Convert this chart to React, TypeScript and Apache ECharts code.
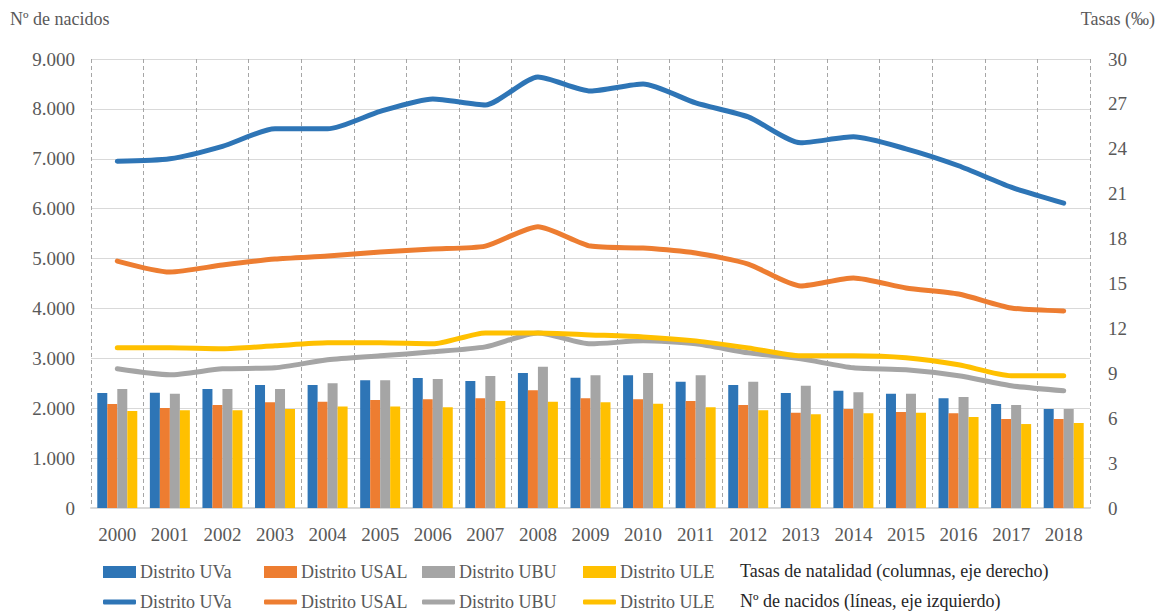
import React, { useEffect, useRef } from "react";
import * as echarts from "echarts";

const years = ["2000","2001","2002","2003","2004","2005","2006","2007","2008","2009","2010","2011","2012","2013","2014","2015","2016","2017","2018"];

// Tasas de natalidad (‰) — columns, right axis
const rateUVa = [7.68, 7.70, 7.95, 8.22, 8.22, 8.53, 8.69, 8.49, 9.02, 8.71, 8.87, 8.44, 8.22, 7.68, 7.84, 7.64, 7.33, 6.95, 6.61];
const rateUSAL = [6.95, 6.68, 6.88, 7.06, 7.10, 7.22, 7.26, 7.33, 7.86, 7.33, 7.26, 7.15, 6.88, 6.37, 6.61, 6.41, 6.33, 5.95, 5.95];
const rateUBU = [7.95, 7.64, 7.95, 7.95, 8.33, 8.53, 8.62, 8.82, 9.44, 8.87, 9.02, 8.87, 8.44, 8.17, 7.73, 7.64, 7.42, 6.88, 6.61];
const rateULE = [6.48, 6.53, 6.53, 6.61, 6.79, 6.79, 6.73, 7.15, 7.10, 7.06, 6.97, 6.73, 6.53, 6.26, 6.33, 6.37, 6.08, 5.61, 5.68];

// Nº de nacidos — lines, left axis
const birthsUVa = [6950, 7000, 7250, 7600, 7600, 7950, 8200, 8080, 8640, 8360, 8500, 8120, 7840, 7320, 7440, 7200, 6860, 6430, 6110];
const birthsUSAL = [4950, 4730, 4870, 4990, 5050, 5130, 5190, 5250, 5640, 5250, 5210, 5110, 4890, 4450, 4610, 4410, 4290, 4010, 3950];
const birthsUBU = [2790, 2670, 2790, 2810, 2970, 3050, 3130, 3230, 3510, 3290, 3350, 3290, 3110, 2990, 2810, 2770, 2650, 2450, 2350];
const birthsULE = [3210, 3210, 3190, 3250, 3310, 3310, 3290, 3510, 3510, 3470, 3430, 3350, 3210, 3050, 3050, 3010, 2870, 2650, 2650];

const districts = ["Distrito UVa", "Distrito USAL", "Distrito UBU", "Distrito ULE"];
const colors = ["#2E75B6", "#ED7D31", "#A5A5A5", "#FFC000"];
const rates = [rateUVa, rateUSAL, rateUBU, rateULE];
const births = [birthsUVa, birthsUSAL, birthsUBU, birthsULE];

const leftAxisName = "Nº de nacidos";
const rightAxisName = "Tasas (‰)";
const barLegendNote = "Tasas de natalidad (columnas, eje derecho)";
const lineLegendNote = "Nº de nacidos (líneas, eje izquierdo)";

const FONT = "Liberation Serif";
const TXT = "#595959";

const fmtThousands = (v: number) =>
  v >= 1000 ? Math.floor(v / 1000) + "." + String(v % 1000).padStart(3, "0") : String(v);

export default function App() {
  const ref = useRef<HTMLDivElement>(null);
  useEffect(() => {
    if (!ref.current) return;
    const chart = echarts.init(ref.current, null, { renderer: "svg" });
    const legendX = [103, 264, 422, 583];
    const series: any[] = [];
    districts.forEach((d, i) => {
      series.push({
        name: d + " (tasa)",
        type: "bar",
        yAxisIndex: 1,
        data: rates[i],
        barWidth: 10,
        barGap: "0%",
        itemStyle: { color: colors[i] },
      });
    });
    districts.forEach((d, i) => {
      series.push({
        name: d + " (nacidos)",
        type: "line",
        yAxisIndex: 0,
        data: births[i],
        smooth: 0.22,
        symbol: "none",
        lineStyle: { color: colors[i], width: 5, cap: "round", join: "round" },
        itemStyle: { color: colors[i] },
      });
    });
    const legends: any[] = [];
    districts.forEach((d, i) => {
      legends.push({
        left: legendX[i],
        top: 563,
        data: [{ name: d + " (tasa)", icon: "rect" }],
        itemWidth: 33,
        itemHeight: 12,
        itemGap: 0,
        padding: 0,
        selectedMode: false,
        formatter: () => d,
        textStyle: { fontFamily: FONT, fontSize: 18, color: TXT, padding: [0, 0, 0, -1] },
      });
      legends.push({
        left: legendX[i],
        top: 593,
        data: [{ name: d + " (nacidos)", icon: "roundRect" }],
        itemWidth: 33,
        itemHeight: 5,
        itemGap: 0,
        padding: 0,
        selectedMode: false,
        itemStyle: { color: colors[i], borderWidth: 0 },
        lineStyle: { width: 0, opacity: 0 },
        formatter: () => d,
        textStyle: { fontFamily: FONT, fontSize: 18, color: TXT, padding: [0, 0, 0, -1] },
      });
    });
    chart.setOption({
      animation: false,
      backgroundColor: "#ffffff",
      textStyle: { fontFamily: FONT },
      grid: { left: 91, right: 71, top: 59, bottom: 105, containLabel: false },
      legend: legends,
      xAxis: {
        type: "category",
        data: years,
        boundaryGap: true,
        axisLine: { show: true, lineStyle: { color: "#D9D9D9", width: 2 } },
        axisTick: { show: false, interval: 0 },
        axisLabel: { interval: 0, fontFamily: FONT, fontSize: 19, color: TXT, margin: 17 },
        splitLine: { show: true, interval: 0, lineStyle: { color: "#A6A6A6", type: [4, 3], width: 1 } },
      },
      yAxis: [
        {
          type: "value",
          min: 0,
          max: 9000,
          interval: 1000,
          axisLine: { show: false },
          axisTick: { show: false },
          axisLabel: { fontFamily: FONT, fontSize: 19, color: TXT, margin: 16, formatter: fmtThousands },
          splitLine: { show: true, lineStyle: { color: "#D9D9D9", width: 1 } },
        },
        {
          type: "value",
          min: 0,
          max: 30,
          interval: 3,
          axisLine: { show: false },
          axisTick: { show: false },
          axisLabel: { fontFamily: FONT, fontSize: 19, color: TXT, margin: 18 },
          splitLine: { show: false },
        },
      ],
      graphic: [
        { type: "text", left: 10, top: 10, style: { text: leftAxisName, fontFamily: FONT, fontSize: 18, fill: TXT } },
        { type: "text", right: 6, top: 10, style: { text: rightAxisName, fontFamily: FONT, fontSize: 18, fill: TXT } },
        { type: "text", left: 740, top: 562, style: { text: barLegendNote, fontFamily: FONT, fontSize: 18, fill: "#262626" } },
        { type: "text", left: 740, top: 592, style: { text: lineLegendNote, fontFamily: FONT, fontSize: 18, fill: "#262626" } },
      ],
      series,
    });
    return () => chart.dispose();
  }, []);
  return <div ref={ref} style={{ position: "fixed", left: 0, top: 0, width: 1161, height: 613 }} />;
}
